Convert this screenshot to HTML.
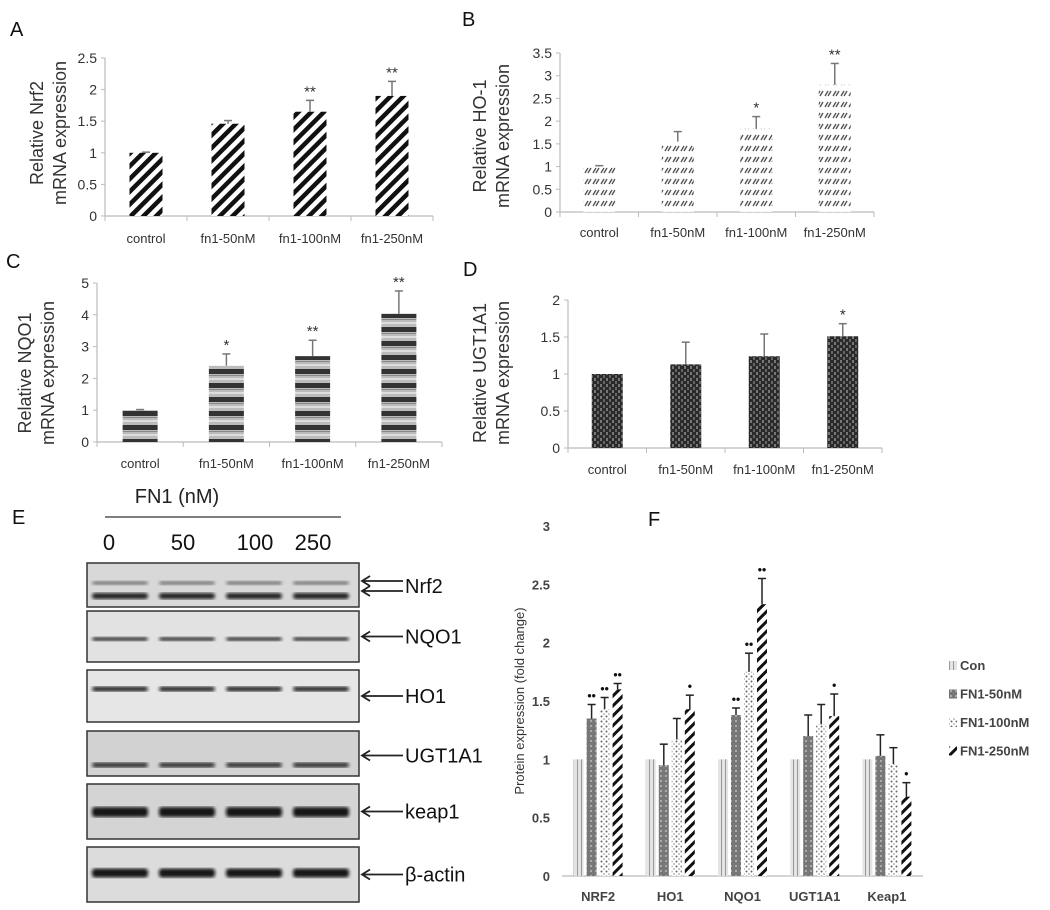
<!DOCTYPE html>
<html><head><meta charset="utf-8"><style>
html,body{margin:0;padding:0;background:#fff;}
svg{display:block;font-family:"Liberation Sans",sans-serif;}
</style></head><body>
<svg id="fig" width="1050" height="910" viewBox="0 0 1050 910" xmlns="http://www.w3.org/2000/svg">
<defs>
<pattern id="pA" width="9" height="9" patternUnits="userSpaceOnUse" patternTransform="rotate(45)"><rect width="9" height="9" fill="#fff"/><rect width="4.5" height="9" fill="#111"/></pattern>
<pattern id="pB" width="8" height="11" patternUnits="userSpaceOnUse"><rect width="8" height="11" fill="#fff"/><path d="M1 8 L4 3 M4 8 L7 3" stroke="#555" stroke-width="1.4"/></pattern>
<pattern id="pC" width="10" height="14" patternUnits="userSpaceOnUse"><rect width="10" height="14" fill="#bbb"/><rect y="0" width="10" height="2" fill="#ddd"/><rect y="5" width="10" height="5" fill="#333"/><rect y="11" width="10" height="1" fill="#888"/></pattern>
<pattern id="pD" width="6" height="6" patternUnits="userSpaceOnUse"><rect width="6" height="6" fill="#2a2a2a"/><rect x="0" y="0" width="2" height="3" fill="#777"/><rect x="3" y="3" width="2" height="3" fill="#666"/></pattern>
<pattern id="pF0" width="4" height="6" patternUnits="userSpaceOnUse"><rect width="4" height="6" fill="#e4e4e4"/><rect x="1" width="1" height="6" fill="#999"/></pattern>
<pattern id="pF1" width="5" height="5" patternUnits="userSpaceOnUse"><rect width="5" height="5" fill="#777"/><rect width="2" height="2" fill="#aaa"/></pattern>
<pattern id="pF2" width="5" height="5" patternUnits="userSpaceOnUse"><rect width="5" height="5" fill="#fff"/><circle cx="1.5" cy="1.5" r="1" fill="#666"/><circle cx="4" cy="4" r="0.8" fill="#888"/></pattern>
<pattern id="pF3" width="7" height="7" patternUnits="userSpaceOnUse" patternTransform="rotate(45)"><rect width="7" height="7" fill="#fff"/><rect width="3" height="7" fill="#111"/></pattern>
<filter id="blur"><feGaussianBlur stdDeviation="1.6"/></filter>
</defs>
<g id="root"></g>
</svg>
<script>
const NS="http://www.w3.org/2000/svg";
const root=document.getElementById('root');
// ---- data ----
const qCats=["control","fn1-50nM","fn1-100nM","fn1-250nM"];
const aVals=[1,1.46,1.65,1.9];
const aErr=[0.01,0.05,0.18,0.23];
const aStars=["","","**","**"];
const aTicks=["0","0.5","1","1.5","2","2.5"];
const bVals=[1,1.55,1.83,2.8];
const bErr=[0.02,0.22,0.27,0.47];
const bStars=["","","*","**"];
const bTicks=["0","0.5","1","1.5","2","2.5","3","3.5"];
const cVals=[1,2.4,2.7,4.03];
const cErr=[0.02,0.37,0.5,0.72];
const cStars=["","*","**","**"];
const cTicks=["0","1","2","3","4","5"];
const dVals=[1,1.13,1.24,1.51];
const dErr=[0,0.3,0.3,0.17];
const dStars=["","","","*"];
const dTicks=["0","0.5","1","1.5","2"];
const fCats=["NRF2","HO1","NQO1","UGT1A1","Keap1"];
const fSeries=["Con","FN1-50nM","FN1-100nM","FN1-250nM"];
const fCon=[1,1,1,1,1];
const f50=[1.35,0.95,1.38,1.2,1.03];
const f100=[1.43,1.17,1.75,1.3,0.96];
const f250=[1.6,1.43,2.33,1.37,0.68];
const f50Err=[0.12,0.18,0.06,0.18,0.18];
const f100Err=[0.1,0.18,0.16,0.17,0.14];
const f250Err=[0.05,0.12,0.22,0.19,0.12];
const f50Stars=["••","","••","",""];
const f100Stars=["••","","••","",""];
const f250Stars=["••","•","••","•","•"];
const fTicks=["0","0.5","1","1.5","2","2.5","3"];
const lanes=["0","50","100","250"];
const blotNames=["Nrf2","NQO1","HO1","UGT1A1","keap1","β-actin"];

function mk(tag,attrs,parent,text){const e=document.createElementNS(NS,tag);for(const k in attrs)e.setAttribute(k,attrs[k]);if(text!==undefined)e.textContent=text;(parent||root).appendChild(e);return e;}
function txt(x,y,s,size,anchor,parent,extra){const t=mk('text',Object.assign({x:x,y:y,'font-size':size,'text-anchor':anchor||'start',fill:'#222'},extra||{}),parent,s);return t;}

function panel(name,L,R,Y0,Ytop,ticks,vals,errs,stars,fill,bw,labY,titles,tx,ty){
  const g=mk('g',{});  
  const maxV=parseFloat(ticks[ticks.length-1]);
  const y=v=>Y0-(v/maxV)*(Y0-Ytop);
  const n=qCats.length, step=(R-L)/n;
  const ax=mk('line',{x1:L,y1:Ytop,x2:L,y2:Y0,stroke:'#bbb','stroke-width':1.2},g);
   
  const xa=mk('line',{x1:L,y1:Y0,x2:R,y2:Y0,stroke:'#bbb','stroke-width':1.2},g);
   
  ticks.forEach(t=>{const v=parseFloat(t);const yy=y(v);
    mk('line',{x1:L-4,y1:yy,x2:L,y2:yy,stroke:'#bbb'},g);
    const tl=txt(L-8,yy+5,t,14,'end',g,{fill:'#333'});
     });
  for(let i=0;i<=n;i++){mk('line',{x1:L+i*step,y1:Y0,x2:L+i*step,y2:Y0+5,stroke:'#bbb'},g);}
  vals.forEach((v,i)=>{const cx=L+step*(i+0.5);
    const b=mk('rect',{x:cx-bw/2,y:y(v),width:bw,height:Y0-y(v),fill:fill},g);
     
    if(errs[i]>0){const ye=y(v+errs[i]);
      mk('line',{x1:cx,y1:y(v),x2:cx,y2:ye,stroke:'#777','stroke-width':1.5},g);
      mk('line',{x1:cx-4,y1:ye,x2:cx+4,y2:ye,stroke:'#777','stroke-width':1.5},g);}
    if(stars[i]){const s=txt(cx,y(v+errs[i])-4,stars[i],15,'middle',g,{fill:'#333'});
       }
    const cl=txt(cx,labY,qCats[i],13,'middle',g,{fill:'#333'});
     
  });
  const cy=ty;
  titles.forEach((t,k)=>{const tt=txt(tx[k],cy,t,18,'middle',g,{transform:'rotate(-90 '+tx[k]+' '+cy+')',fill:'#333'});
     });
}
function letter(s,x,y){const t=txt(x,y,s,20,'start',root,{fill:'#111'});}

letter('A',10,36); letter('B',462,26); letter('C',6,268); letter('D',463,276); letter('E',12,524); letter('F',648,526);

panel('panel-a',105,433,216,58,aTicks,aVals,aErr,aStars,'url(#pA)',33,243,['Relative  Nrf2','mRNA expression'],[43,66],133);
panel('panel-b',560,874,212,53,bTicks,bVals,bErr,bStars,'url(#pB)',32,237,['Relative  HO-1','mRNA expression'],[486,509],136);
panel('panel-c',97,442,442,283,cTicks,cVals,cErr,cStars,'url(#pC)',35,468,['Relative  NQO1','mRNA expression'],[31,54],373);
panel('panel-d',568,882,448,300,dTicks,dVals,dErr,dStars,'url(#pD)',31,474,['Relative  UGT1A1','mRNA expression'],[486,509],373);

// ---- Panel F ----
(function(){
  const g=mk('g',{});  
  const L=562,R=923,Y0=876,Ytop=526, maxV=3;
  const y=v=>Y0-(v/maxV)*(Y0-Ytop);
  const step=(R-L)/fCats.length, bw=10, gap=13;
  const xa=mk('line',{x1:L,y1:Y0,x2:R,y2:Y0,stroke:'#bbb','stroke-width':1.2},g);
   
  fTicks.forEach(t=>{const tl=txt(550,y(parseFloat(t))+5,t,13,'end',g,{fill:'#444','font-weight':'bold'});
     });
  const series=[fCon,f50,f100,f250], errs=[null,f50Err,f100Err,f250Err], stars=[null,f50Stars,f100Stars,f250Stars];
  const fills=['url(#pF0)','url(#pF1)','url(#pF2)','url(#pF3)'];
  fCats.forEach((c,i)=>{const cx=L+step*(i+0.5);
    series.forEach((s,k)=>{const bx=cx+(k-1.5)*gap; const v=s[i];
      const b=mk('rect',{x:bx-bw/2,y:y(v),width:bw,height:Y0-y(v),fill:fills[k]},g);
       
      if(errs[k]){const ye=y(v+errs[k][i]);
        mk('line',{x1:bx,y1:y(v),x2:bx,y2:ye,stroke:'#222','stroke-width':1.5},g);
        mk('line',{x1:bx-4,y1:ye,x2:bx+4,y2:ye,stroke:'#222','stroke-width':1.5},g);
        if(stars[k][i]){const st=txt(bx,ye-5,stars[k][i],12,'middle',g,{fill:'#111','font-weight':'bold'});
           }}
    });
    const cl=txt(cx,901,c,13,'middle',g,{fill:'#444','font-weight':'bold'});
     
  });
  const tt=txt(524,701,'Protein expression (fold change)',13,'middle',g,{transform:'rotate(-90 524 701)',fill:'#333'});
   
  fSeries.forEach((s,k)=>{const ly=670+k*28.5;
    const sw=mk('rect',{x:949,y:ly-9,width:8,height:9,fill:fills[k]},g);
     
    const lt=txt(960,ly,s,13,'start',g,{fill:'#444','font-weight':'bold'});
     });
})();

// ---- Panel E: western blot ----
(function(){
  const g=mk('g',{});  
  const h=txt(177,503,'FN1 (nM)',20,'middle',g,{fill:'#222'});  
  mk('line',{x1:105,y1:517,x2:341,y2:517,stroke:'#555','stroke-width':1.5},g);
  const lx=[109,183,255,313];
  lanes.forEach((l,i)=>{const t=txt(lx[i],550,l,22,'middle',g,{fill:'#111'});});
  const boxes=[[563,607],[611,662],[670,722],[731,776],[784,839],[847,902]];
  const bandY=[[583,596],[639],[689],[765],[812],[873]];
  const bandH=[[4,6],[4],[5],[5],[10],[9]];
  const bandOp=[[0.45,0.9],[0.8],[0.85],[0.8],[0.95],[0.95]];
  const bg=['#d8d8d8','#e2e2e2','#e6e6e6','#d2d2d2','#d4d4d4','#dcdcdc'];
  const lc=[120,187,254,321];
  boxes.forEach((b,i)=>{
    const r=mk('rect',{x:87,y:b[0],width:272,height:b[1]-b[0],fill:bg[i],stroke:'#333','stroke-width':1.5},g);
     
    bandY[i].forEach((yy,k)=>{lc.forEach(cx=>{mk('rect',{x:cx-28,y:yy-bandH[i][k]/2,width:56,height:bandH[i][k],rx:3,fill:'#111',opacity:bandOp[i][k],filter:'url(#blur)'},g);});});
    const ay=i===0?586:(b[0]+b[1])/2+ (i===3?2:0);
    if(i===0){[581,591].forEach(a=>{mk('path',{d:'M403 '+a+' H362 M370 '+(a-5)+' L362 '+a+' L370 '+(a+5),stroke:'#222','stroke-width':1.8,fill:'none'},g);});}
    else{mk('path',{d:'M403 '+ay+' H362 M370 '+(ay-5)+' L362 '+ay+' L370 '+(ay+5),stroke:'#222','stroke-width':1.8,fill:'none'},g);}
    const t=txt(405,ay+7,blotNames[i],20,'start',g,{fill:'#111'});
     
  });
})();
</script>
</body></html>
